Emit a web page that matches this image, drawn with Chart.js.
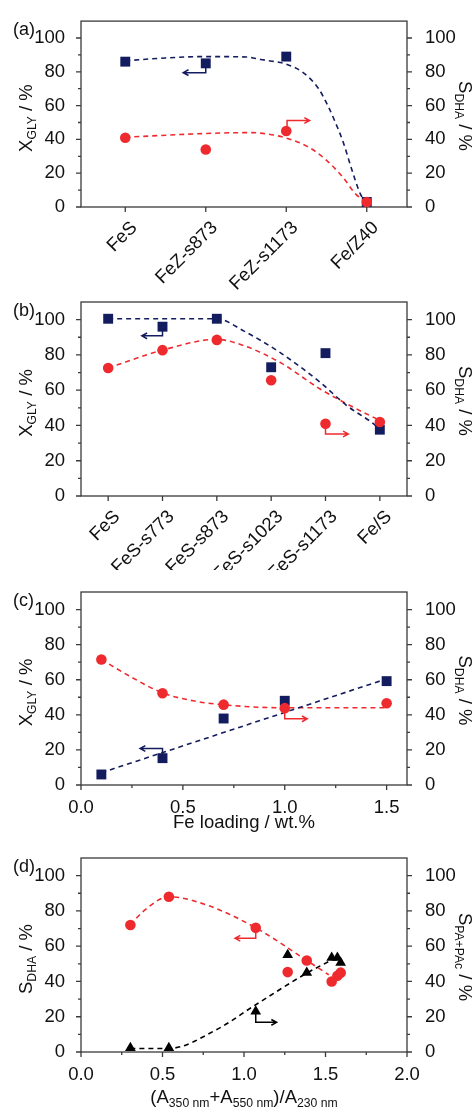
<!DOCTYPE html>
<html>
<head>
<meta charset="utf-8">
<script src="https://cdn.jsdelivr.net/npm/chart.js@4.4.0/dist/chart.umd.min.js"></script>
<style>
  html, body { margin: 0; padding: 0; background: #fff; }
  body { width: 476px; height: 1112px; position: relative; overflow: hidden; }
  canvas { position: absolute; left: 0; }
</style>
</head>
<body>
<canvas id="chartA" width="476" height="290" style="top:0px"></canvas>
<canvas id="chartB" width="476" height="290" style="top:280px"></canvas>
<canvas id="chartC" width="476" height="265" style="top:570px"></canvas>
<canvas id="chartD" width="476" height="277" style="top:835px"></canvas>
<script>
// ---- data ----
const yTicks = [0, 20, 40, 60, 80, 100];

// (a)
const catsA = ['FeS', 'FeZ-s873', 'FeZ-s1173', 'Fe/Z40'];
const xglyA = [86, 85, 89, 3];
const sdhaA = [41, 34, 45, 3];
const fitXglyAX = [0, 0.5, 1, 1.5, 1.68, 2.0, 2.21, 2.4, 2.52, 2.6, 2.71, 2.81, 2.92, 3];
const fitXglyAY = [86.5, 88.2, 89, 88.8, 87.3, 84.5, 79.5, 70.1, 59.7, 51.2, 38, 22.8, 7.8, 2.5];
const fitSdhaAX = [0, 1, 1.5, 1.68, 2.0, 2.29, 2.5, 2.71, 2.86, 3];
const fitSdhaAY = [41.3, 43.5, 44, 43.7, 40.8, 35.1, 27.6, 17.2, 7.8, 3];

// (b)
const catsB = ['FeS', 'FeS-s773', 'FeS-s873', 'FeS-s1023', 'FeS-s1173', 'Fe/S'];
const xglyB = [100.5, 96, 100.5, 73, 81, 37.6];
const sdhaB = [72.6, 82.7, 88.5, 65.6, 41, 42];
const fitXglyBX = [0, 1, 2, 2.5, 3.16, 3.9, 4.39, 4.88, 5];
const fitXglyBY = [100.5, 100.5, 100.5, 93.5, 81.4, 64.5, 51.3, 41, 37.6];
const fitSdhaBX = [0, 1, 2, 2.5, 3.16, 3.9, 4.39, 4.94, 5];
const fitSdhaBY = [72.6, 82.7, 88.8, 85.2, 75.8, 60.7, 52.3, 43.8, 43];

// (c)
const feLoading = [0.1, 0.4, 0.7, 1.0, 1.5];
const xglyC = [6, 15.3, 37.9, 48, 59.2];
const sdhaC = [71.5, 52.3, 45.8, 43.8, 46.6];
const fitXglyCX = [0.1, 1.5];
const fitXglyCY = [7, 60.5];
const fitSdhaCX = [0.1, 0.25, 0.4, 0.55, 0.7, 1.0, 1.5];
const fitSdhaCY = [71.5, 61.3, 52.5, 48, 45.7, 44, 44];
const xTicksC = [0, 0.5, 1.0, 1.5];

// (d)
const absRatio = [0.303, 0.539, 1.072, 1.268, 1.385, 1.538, 1.573, 1.593];
const sdhaD = [72, 88, 70.4, 45.3, 51.9, 40, 43.2, 45];
const spaD = [2.3, 2.3, 23, 55, 45, 53.5, 53.5, 50.7];
const fitSdhaDX = [0.303, 0.38, 0.539, 0.77, 1.072, 1.385, 1.52];
const fitSdhaDY = [72, 79.6, 88, 83.4, 70.4, 51.9, 43.8];
const fitSpaDX = [0.303, 0.539, 0.83, 1.072, 1.385, 1.52];
const fitSpaDY = [2, 2, 12.6, 26.8, 44.7, 51.3];
const xTicksD = [0, 0.5, 1.0, 1.5, 2.0];

// ---- styling ----
const NAVY = '#131c5e';
const RED = '#ee2a2e';
const BLACK = '#000000';
const FRAME = '#3a3a3a';
const FONT = "'Liberation Sans', Arial, sans-serif";
const FS = 18.5;

Chart.defaults.font.family = FONT;
Chart.defaults.font.size = FS;
Chart.defaults.color = '#111';

function points(xs, ys, style, color, r, order) {
    return {
        data: xs.map((x, i) => ({ x: x, y: ys[i] })),
        pointStyle: style,
        pointRadius: r,
        pointBackgroundColor: color,
        pointBorderColor: color,
        pointBorderWidth: 0,
        showLine: false,
        clip: false,
        order: order,
    };
}

function fit(xs, ys, color) {
    return {
        data: xs.map((x, i) => ({ x: x, y: ys[i] })),
        showLine: true,
        pointRadius: 0,
        borderColor: color,
        borderWidth: 1.6,
        borderDash: [5, 4],
        cubicInterpolationMode: 'monotone',
        fill: false,
        order: 3,
    };
}

// draw text with subscripts; parts = [[text, isSub], ...]
function drawRich(ctx, parts, cx, cy, angle, size) {
    ctx.save();
    ctx.translate(cx, cy);
    ctx.rotate(angle);
    ctx.fillStyle = '#111';
    ctx.textBaseline = 'middle';
    ctx.textAlign = 'left';
    let total = 0;
    parts.forEach(p => {
        ctx.font = (p[1] ? size * 0.66 : size) + 'px ' + FONT;
        total += ctx.measureText(p[0]).width;
    });
    let x = -total / 2;
    parts.forEach(p => {
        ctx.font = (p[1] ? size * 0.66 : size) + 'px ' + FONT;
        ctx.fillText(p[0], x, p[1] ? size * 0.3 : 0);
        x += ctx.measureText(p[0]).width;
    });
    ctx.restore();
}

function makeDeco(cfg) {
    return {
        id: 'deco',
        beforeDatasetsDraw(chart) {
            const ctx = chart.ctx;
            const a = chart.chartArea;
            const sx = chart.scales.x;
            const sy = chart.scales.y;
            ctx.save();
            ctx.strokeStyle = FRAME;
            ctx.lineWidth = 1.3;
            ctx.strokeRect(a.left, a.top, a.right - a.left, a.bottom - a.top);
            ctx.beginPath();
            yTicks.forEach((v, i) => {
                const p = sy.getPixelForValue(v);
                ctx.moveTo(a.left - 5, p); ctx.lineTo(a.left, p);
                ctx.moveTo(a.right, p); ctx.lineTo(a.right + 5, p);
                if (i < yTicks.length - 1) {
                    const m = sy.getPixelForValue((v + yTicks[i + 1]) / 2);
                    ctx.moveTo(a.left - 3, m); ctx.lineTo(a.left, m);
                    ctx.moveTo(a.right, m); ctx.lineTo(a.right + 3, m);
                }
            });
            cfg.xTicks.forEach((v, i) => {
                const p = sx.getPixelForValue(v);
                ctx.moveTo(p, a.bottom); ctx.lineTo(p, a.bottom + 5);
                if (cfg.xMinor && i < cfg.xTicks.length - 1) {
                    const m = sx.getPixelForValue((v + cfg.xTicks[i + 1]) / 2);
                    ctx.moveTo(m, a.bottom); ctx.lineTo(m, a.bottom + 3);
                }
            });
            ctx.stroke();
            ctx.restore();
        },
        afterDraw(chart) {
            const ctx = chart.ctx;
            const a = chart.chartArea;
            const sx = chart.scales.x;
            const sy = chart.scales.y;
            const mid = (a.top + a.bottom) / 2;
            // panel letter
            ctx.save();
            ctx.fillStyle = '#111';
            ctx.font = '18px ' + FONT;
            ctx.textBaseline = 'middle';
            ctx.fillText(cfg.label, 13, a.top + 9);
            ctx.restore();
            drawRich(ctx, cfg.yTitle, 27, mid + 4, -Math.PI / 2, FS);
            drawRich(ctx, cfg.y2Title, 464, mid + 2, Math.PI / 2, FS);
            if (cfg.xTitle) {
                drawRich(ctx, cfg.xTitle, (a.left + a.right) / 2, a.bottom + cfg.xTitleOffset, 0, FS);
            }
            // arrows pointing at the matching axis
            cfg.arrows.forEach(arr => {
                const pts = arr.pts.map(p => [sx.getPixelForValue(p[0]), sy.getPixelForValue(p[1])]);
                ctx.save();
                ctx.strokeStyle = arr.color;
                ctx.lineWidth = 1.5;
                ctx.beginPath();
                ctx.moveTo(pts[0][0], pts[0][1]);
                pts.slice(1).forEach(p => ctx.lineTo(p[0], p[1]));
                const e = pts[pts.length - 1];
                const s = pts[pts.length - 2];
                const ang = Math.atan2(e[1] - s[1], e[0] - s[0]);
                ctx.moveTo(e[0] - 6 * Math.cos(ang - 0.5), e[1] - 6 * Math.sin(ang - 0.5));
                ctx.lineTo(e[0], e[1]);
                ctx.lineTo(e[0] - 6 * Math.cos(ang + 0.5), e[1] - 6 * Math.sin(ang + 0.5));
                ctx.stroke();
                ctx.restore();
            });
        }
    };
}

function buildPanel(id, cfg) {
    const ctx = document.getElementById(id).getContext('2d');
    const xScale = {
        type: 'linear',
        position: 'bottom',
        min: cfg.xMin,
        max: cfg.xMax,
        afterBuildTicks: s => { s.ticks = cfg.xTicks.map(v => ({ value: v })); },
        afterFit: s => { s.height = cfg.xHeight; },
        grid: { display: false },
        border: { display: false },
        ticks: {
            autoSkip: false,
            padding: cfg.xPad,
            labelOffset: cfg.rotate ? 9 : 0,
            minRotation: cfg.rotate ? 45 : 0,
            maxRotation: cfg.rotate ? 45 : 0,
            callback: cfg.xLabel,
        },
    };
    new Chart(ctx, {
        type: 'scatter',
        data: { datasets: cfg.datasets },
        options: {
            responsive: false,
            animation: false,
            events: [],
            layout: { padding: { top: cfg.padTop, left: 0, right: 0, bottom: 0 } },
            plugins: { legend: { display: false }, tooltip: { enabled: false } },
            scales: {
                x: xScale,
                y: {
                    type: 'linear', position: 'left', min: 0, max: 110,
                    afterBuildTicks: s => { s.ticks = yTicks.map(v => ({ value: v })); },
                    afterFit: s => { s.width = 81; },
                    grid: { display: false },
                    border: { display: false },
                    ticks: { padding: 8 },
                },
                y2: {
                    type: 'linear', position: 'right', min: 0, max: 110,
                    afterBuildTicks: s => { s.ticks = yTicks.map(v => ({ value: v })); },
                    afterFit: s => { s.width = 69; },
                    grid: { display: false },
                    border: { display: false },
                    ticks: { padding: 10 },
                },
            },
        },
        plugins: [makeDeco(cfg)],
    });
}

const xglyTitle = [['X', false], ['GLY', true], [' / %', false]];
const sdhaTitle = [['S', false], ['DHA', true], [' / %', false]];

buildPanel('chartA', {
    label: '(a)', padTop: 13, xHeight: 83, xPad: 2, rotate: true,
    xMin: -0.55, xMax: 3.5, xTicks: catsA.map((c, i) => i), xMinor: false,
    xLabel: (v, i) => catsA[i],
    yTitle: xglyTitle, y2Title: sdhaTitle,
    datasets: [
        points(catsA.map((c, i) => i), sdhaA, 'circle', RED, 5.3, 1),
        points(catsA.map((c, i) => i), xglyA, 'rect', NAVY, 7, 2),
        fit(fitXglyAX, fitXglyAY, NAVY),
        fit(fitSdhaAX, fitSdhaAY, RED),
    ],
    arrows: [
        { color: NAVY, pts: [[1, 83.5], [1, 79.5], [0.72, 79.5]] },
        { color: RED, pts: [[2.01, 48], [2.01, 51.2], [2.29, 51.2]] },
    ],
});

buildPanel('chartB', {
    label: '(b)', padTop: 22, xHeight: 74, xPad: 2, rotate: true,
    xMin: -0.5, xMax: 5.5, xTicks: catsB.map((c, i) => i), xMinor: false,
    xLabel: (v, i) => catsB[i],
    yTitle: xglyTitle, y2Title: sdhaTitle,
    datasets: [
        points(catsB.map((c, i) => i), sdhaB, 'circle', RED, 5.3, 1),
        points(catsB.map((c, i) => i), xglyB, 'rect', NAVY, 7, 2),
        fit(fitXglyBX, fitXglyBY, NAVY),
        fit(fitSdhaBX, fitSdhaBY, RED),
    ],
    arrows: [
        { color: NAVY, pts: [[1, 94.5], [1, 90.8], [0.62, 90.8]] },
        { color: RED, pts: [[4, 38.9], [4, 35.2], [4.42, 35.2]] },
    ],
});

buildPanel('chartC', {
    label: '(c)', padTop: 22, xHeight: 50, xPad: 4, rotate: false,
    xMin: 0, xMax: 1.6, xTicks: xTicksC, xMinor: true,
    xLabel: v => v.toFixed(1),
    yTitle: xglyTitle, y2Title: sdhaTitle,
    xTitle: [['Fe loading / wt.%', false]], xTitleOffset: 38,
    datasets: [
        points(feLoading, sdhaC, 'circle', RED, 5.3, 1),
        points(feLoading, xglyC, 'rect', NAVY, 7, 2),
        fit(fitXglyCX, fitXglyCY, NAVY),
        fit(fitSdhaCX, fitSdhaCY, RED),
    ],
    arrows: [
        { color: NAVY, pts: [[0.4, 16], [0.4, 20.8], [0.29, 20.8]] },
        { color: RED, pts: [[1.0, 43.4], [1.0, 37.7], [1.11, 37.7]] },
    ],
});

buildPanel('chartD', {
    label: '(d)', padTop: 23, xHeight: 60, xPad: 4, rotate: false,
    xMin: 0, xMax: 2, xTicks: xTicksD, xMinor: true,
    xLabel: v => v.toFixed(1),
    yTitle: [['S', false], ['DHA', true], [' / %', false]],
    y2Title: [['S', false], ['PA+PAc', true], [' / %', false]],
    xTitle: [['(A', false], ['350 nm', true], ['+A', false], ['550 nm', true], [')/A', false], ['230 nm', true]],
    xTitleOffset: 46,
    datasets: [
        points(absRatio, sdhaD, 'circle', RED, 5.3, 1),
        points(absRatio, spaD, 'triangle', BLACK, 6.2, 2),
        fit(fitSdhaDX, fitSdhaDY, RED),
        fit(fitSpaDX, fitSpaDY, BLACK),
    ],
    arrows: [
        { color: RED, pts: [[1.072, 70.2], [1.072, 64.5], [0.945, 64.5]] },
        { color: BLACK, pts: [[1.072, 23], [1.072, 16.8], [1.2, 16.8]] },
    ],
});
</script>
</body>
</html>
